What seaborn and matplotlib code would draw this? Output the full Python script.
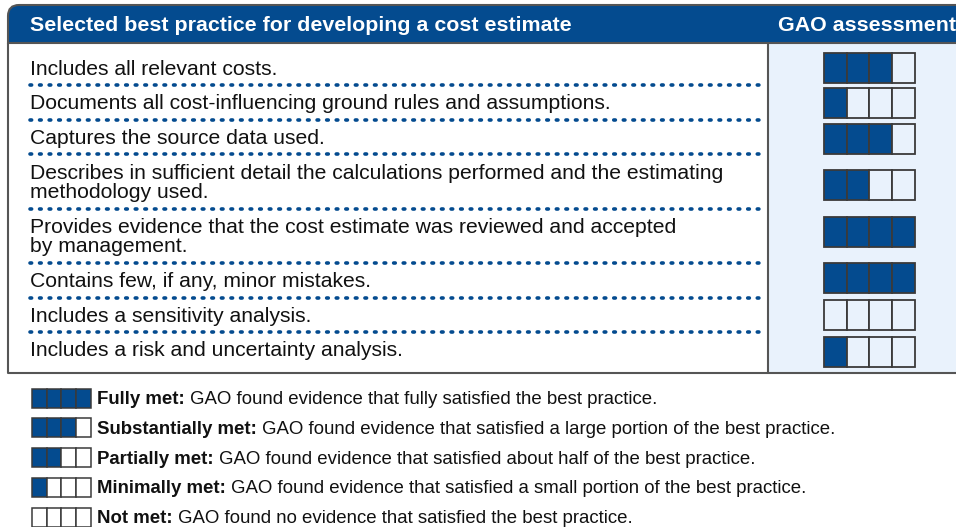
"""
Recreate the GAO cost-estimate assessment table as a seaborn/matplotlib figure.
"""

import matplotlib.pyplot as plt
from matplotlib.patches import Rectangle, PathPatch
from matplotlib.path import Path
import seaborn as sns


# ---- data -----------------------------------------------------------------
HEADER_LEFT = "Selected best practice for developing a cost estimate"
HEADER_RIGHT = "GAO assessment"

practices = [
    "Includes all relevant costs.",
    "Documents all cost-influencing ground rules and assumptions.",
    "Captures the source data used.",
    "Describes in sufficient detail the calculations performed and the estimating\nmethodology used.",
    "Provides evidence that the cost estimate was reviewed and accepted\nby management.",
    "Contains few, if any, minor mistakes.",
    "Includes a sensitivity analysis.",
    "Includes a risk and uncertainty analysis.",
]
scores = [3, 1, 3, 2, 4, 4, 0, 1]

legend_labels = ["Fully met:", "Substantially met:", "Partially met:", "Minimally met:", "Not met:"]
legend_texts = [
    " GAO found evidence that fully satisfied the best practice.",
    " GAO found evidence that satisfied a large portion of the best practice.",
    " GAO found evidence that satisfied about half of the best practice.",
    " GAO found evidence that satisfied a small portion of the best practice.",
    " GAO found no evidence that satisfied the best practice.",
]
legend_scores = [4, 3, 2, 1, 0]

# ---- styling / layout (pixel units) ---------------------------------------
BLUE = "#044b8f"
LIGHT = "#e9f2fc"
EDGE = "#3a3a3a"
BORDER = "#555555"
W, H = 956, 527
FONT = ["Liberation Sans", "DejaVu Sans"]
BOX_NUDGE = [0, 1, 2, 4, -4, -2, 0, 3]  # vertical fine-tuning of the assessment boxes

sns.set_theme(style="white")
plt.rcParams["font.family"] = FONT

fig = plt.figure(figsize=(W / 100, H / 100), dpi=100)
ax = fig.add_axes([0, 0, 1, 1])
ax.set_xlim(0, W)
ax.set_ylim(H, 0)
ax.axis("off")

left, divider = 8, 768
head_top, head_bot, table_bot = 5, 43, 373

# right column background
ax.add_patch(Rectangle((divider, head_bot), W - divider, table_bot - head_bot,
                       facecolor=LIGHT, edgecolor="none", zorder=1))

# header band with rounded top-left corner
r = 11
verts = [(left, head_bot), (left, head_top + r), (left, head_top), (left + r, head_top),
         (W + 2, head_top), (W + 2, head_bot), (left, head_bot)]
codes = [Path.MOVETO, Path.LINETO, Path.CURVE3, Path.CURVE3,
         Path.LINETO, Path.LINETO, Path.CLOSEPOLY]
ax.add_patch(PathPatch(Path(verts, codes), facecolor=BLUE, edgecolor=BORDER, lw=1.5, zorder=2))
ax.text(30, 25.5, HEADER_LEFT, color="white", fontsize=15.4, fontweight="bold",
        va="center", ha="left", zorder=3)
ax.text(778, 25.5, HEADER_RIGHT, color="white", fontsize=15.4, fontweight="bold",
        va="center", ha="left", zorder=3)

# table frame
ax.plot([left, left, W], [head_bot, table_bot, table_bot], color=BORDER, lw=1.5, zorder=2)
ax.plot([divider, divider], [head_bot, table_bot], color=BORDER, lw=1.5, zorder=2)

# rows
single_h, double_h = 34.5, 54.5
box_x, box_w, box_h = 824, 91, 30
cell_w = box_w / 4
y = 50.5
for i, (text, score) in enumerate(zip(practices, scores)):
    row_h = double_h if "\n" in text else single_h
    center = y + row_h / 2
    ax.text(30, center + 1.5, text, fontsize=15.2, color="#111111", va="center", ha="left",
            linespacing=1.0, zorder=3)
    by = center + BOX_NUDGE[i] - box_h / 2
    for c in range(4):
        ax.add_patch(Rectangle((box_x + c * cell_w, by), cell_w, box_h,
                               facecolor=BLUE if c < score else LIGHT,
                               edgecolor=EDGE, lw=1.3, zorder=3))
    y += row_h
    if i < len(practices) - 1:
        ax.plot([30, 760], [y, y], color=BLUE, lw=2.6, linestyle=(0, (0.45, 2.2)),
                dash_capstyle="round", zorder=3)

# legend
fig.canvas.draw()
renderer = fig.canvas.get_renderer()
leg_x, leg_w, leg_h = 32, 59, 19
for j, (label, desc, score) in enumerate(zip(legend_labels, legend_texts, legend_scores)):
    cy = 398 + j * 29.8
    for c in range(4):
        ax.add_patch(Rectangle((leg_x + c * leg_w / 4, cy - leg_h / 2), leg_w / 4, leg_h,
                               facecolor=BLUE if c < score else "white",
                               edgecolor=EDGE, lw=1.1, zorder=3))
    bold = ax.text(97, cy + 1.5, label, fontsize=13.4, fontweight="bold", color="#111111",
                   va="center", ha="left", zorder=3)
    bb = bold.get_window_extent(renderer=renderer)
    x_end = ax.transData.inverted().transform((bb.x1, bb.y0))[0]
    ax.text(x_end, cy + 1.5, desc, fontsize=13.4, color="#111111", va="center", ha="left",
            zorder=3)

fig.savefig("out.png", dpi=100)
